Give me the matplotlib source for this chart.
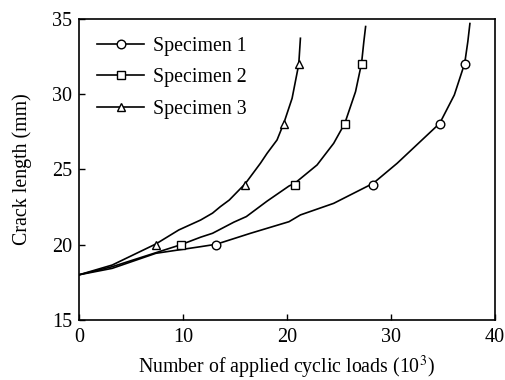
import matplotlib
matplotlib.use("Agg")
import matplotlib.pyplot as plt

plt.rcParams['font.family'] = ['Liberation Serif', 'DejaVu Serif']
plt.rcParams['mathtext.fontset'] = 'stix'

# curve traces
s1_cx = [0, 3.2, 7.4, 11.7, 13.2, 16.5, 20.2, 21.3, 24.5, 28.3, 30.6, 34.7, 36.1, 37.1, 37.4, 37.6]
s1_cy = [18, 18.43, 19.43, 19.87, 20.03, 20.76, 21.53, 21.98, 22.75, 24.08, 25.41, 28.07, 29.95, 32.06, 33.5, 34.7]
s2_cx = [0, 3.2, 9.8, 11.7, 12.85, 14.9, 16.1, 18.1, 20.2, 20.75, 22.9, 24.5, 25.57, 26.6, 27.18, 27.4, 27.57]
s2_cy = [18, 18.54, 20.0, 20.5, 20.76, 21.5, 21.87, 22.9, 23.9, 24.08, 25.3, 26.74, 28.07, 30.17, 32.06, 33.5, 34.5]
s3_cx = [0, 3.2, 7.4, 9.6, 11.7, 12.85, 13.6, 14.46, 16.0, 17.45, 18.1, 19.05, 19.7, 20.5, 21.14, 21.3]
s3_cy = [18, 18.65, 20.05, 20.98, 21.64, 22.1, 22.53, 22.97, 24.06, 25.41, 26.08, 26.96, 28.07, 29.73, 31.99, 33.72]

# measured points (markers)
s1_mx = [13.2, 28.3, 34.7, 37.1]
s1_my = [20, 24, 28, 32]
s2_mx = [9.8, 20.75, 25.57, 27.18]
s2_my = [20, 24, 28, 32]
s3_mx = [7.4, 16.0, 19.7, 21.14]
s3_my = [20, 24, 28, 32]

labels = ['Specimen 1', 'Specimen 2', 'Specimen 3']
markers = ['o', 's', '^']

fig = plt.figure(figsize=(5.06, 3.8), dpi=100)
ax = fig.add_axes([0.156, 0.158, 0.822, 0.792])

curves = [(s1_cx, s1_cy, s1_mx, s1_my), (s2_cx, s2_cy, s2_mx, s2_my), (s3_cx, s3_cy, s3_mx, s3_my)]
handles = []
for (cx, cy, mx, my), lab, mk in zip(curves, labels, markers):
    ax.plot(cx, cy, color='black', lw=1.2, solid_joinstyle='round')
    ax.plot(mx, my, linestyle='none', marker=mk, markersize=6.2, mfc='white', mec='black', mew=1.0)
    h, = ax.plot([], [], color='black', lw=1.2, marker=mk, markersize=6.2, mfc='white', mec='black', mew=1.0, label=lab)
    handles.append(h)

ax.set_xlim(0, 40)
ax.set_ylim(15, 35)
ax.set_xticks([0, 10, 20, 30, 40])
ax.set_yticks([15, 20, 25, 30, 35])
ax.tick_params(direction='in', length=4, width=1, labelsize=14.5)
ax.tick_params(axis='x', pad=6)
ax.tick_params(axis='y', pad=5)
for sp in ax.spines.values():
    sp.set_linewidth(1.2)

ax.set_xlabel('Number of applied cyclic loads (10$^3$)', fontsize=14.3, labelpad=5)
ax.set_ylabel('Crack length (mm)', fontsize=14.3, labelpad=14)

ax.legend(handles=handles, loc='upper left', frameon=False, fontsize=14.3,
          handlelength=2.4, handletextpad=0.45, labelspacing=0.62,
          bbox_to_anchor=(0.0, 1.0), borderaxespad=0.5)

fig.savefig('out.png', dpi=100)
